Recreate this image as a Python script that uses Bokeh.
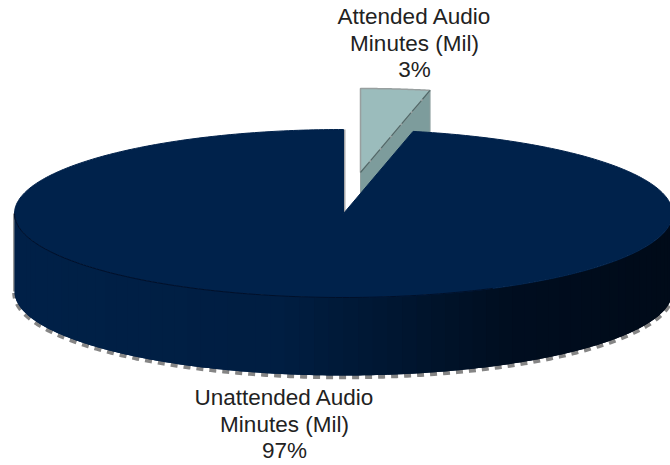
import numpy as np
from bokeh.core.properties import value
from bokeh.embed import file_html
from bokeh.models import Range1d
from bokeh.plotting import figure
from bokeh.resources import INLINE

# Shares of audio listening minutes
categories = ["Attended Audio\nMinutes (Mil)", "Unattended Audio\nMinutes (Mil)"]
shares = [3, 97]

# Layout of the tilted pie, in page pixels
CX, CY = 343, 213
RX, RY = 329, 84
DEPTH = 78
LIFT_X, LIFT_Y = 17, -41
PERSPECTIVE = 1.13  # the tilt widens slices at the back of the pie
TOP_BLUE = "#00224b"
TEXT = "#222222"

def rim(start, stop, n, cx=CX, cy=CY):
    # Points of the ellipse, with angles measured clockwise from 12 o'clock
    t = np.linspace(start, stop, n)
    return cx + RX * np.sin(t), cy - RY * np.cos(t)

p = figure(width=670, height=465, output_backend="svg", toolbar_location=None,
           x_range=Range1d(0, 670), y_range=Range1d(465, 0), min_border=0,
           outline_line_color=None, background_fill_color="white")
p.axis.visible = False
p.grid.visible = False

sweep = 2 * np.pi * np.array(shares) / sum(shares)
small_end = sweep[0] * PERSPECTIVE

# Exploded slice: wall first, then its lit top face
sx, sy = rim(0, small_end, 40, CX + LIFT_X, CY + LIFT_Y)
ax, ay = CX + LIFT_X, CY + LIFT_Y
p.patch([ax, sx[-1], sx[-1], ax], [ay, sy[-1], sy[-1] + DEPTH, ay + DEPTH],
        fill_color="#7d9c9c", line_color="#8f9f9f", line_width=1)
p.patch([ax, *sx], [ay, *sy], fill_color="#9bbcbc", line_color="#989f9f", line_width=1.5)
p.line([ax, sx[-1]], [ay, sy[-1]], line_color="#4f6a6a", line_width=1.2, line_dash="14 2")

# Grey ragged edge under the main body
bx, by = rim(np.pi * 0.5, np.pi * 1.5, 300)
p.line(bx, by + DEPTH + 1.5, line_color="#858585", line_width=4.5, line_dash="7 6")
p.line([CX - RX - 0.5] * 2, [CY, CY + DEPTH], line_color="#777777", line_width=1.5)
p.line([CX + 1, CX + 1], [CY, CY - RY], line_color="#a8a8a8", line_width=2)

# Side wall of the main body, shaded left to right in overlapping strips
stops_x = [0.0, 0.4, 0.55, 0.75, 1.0]
stops_rgb = np.array([[0, 33, 72], [0, 30, 66], [0, 24, 52], [0, 14, 32], [0, 11, 25]], float)
n_strips = 70
edges = np.linspace(np.pi * 1.5, np.pi * 0.5, n_strips + 1)
step = edges[0] - edges[1]
for a, b in zip(edges[:-1], edges[1:]):
    x, y = rim(a, max(b - step, edges[-1]), 8)
    frac = (x[:4].mean() - (CX - RX)) / (2 * RX)
    rgb = [int(np.interp(frac, stops_x, stops_rgb[:, i])) for i in range(3)]
    color = "#%02x%02x%02x" % tuple(rgb)
    p.patch([*x, *x[::-1]], [*y, *(y[::-1] + DEPTH)], fill_color=color, line_color=None)

# Top face of the main body
mx, my = rim(small_end, 2 * np.pi, 400)
p.patch([CX, *mx], [CY, *my], fill_color=TOP_BLUE, line_color=TOP_BLUE, line_width=1)

# Fine dark seam along the front left rim
sx2, sy2 = rim(np.pi * 0.85, np.pi * 1.5, 100)
p.line(sx2, sy2, line_color="#001029", line_width=1)

# Category labels, each with its percentage underneath
label_font = value("Liberation Sans")
for name, share, lx, ly in zip(categories, shares, [414, 284], [16, 397]):
    lines = name.split("\n") + [f"{share}%"]
    p.text([lx] * 3, [ly + i * 26.5 for i in range(3)], text=lines, text_font=label_font,
           text_font_size="22.5px", text_align="center", text_baseline="alphabetic", text_color=TEXT)

open("out.html", "w").write(file_html(p, INLINE))
